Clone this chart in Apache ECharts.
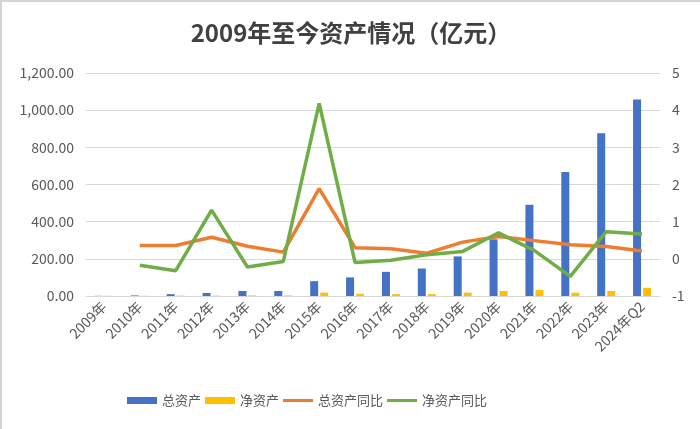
<!DOCTYPE html>
<html>
<head>
<meta charset="utf-8">
<script src="https://cdn.jsdelivr.net/npm/echarts@6/dist/echarts.min.js"></script>
<style>
  html, body { margin: 0; padding: 0; background: #fff; }
  #chart-container { width: 700px; height: 429px; box-sizing: border-box; border-left: 2px solid #d4d4d4; border-top: 2px solid #d4d4d4; }
</style>
</head>
<body>
<div id="chart-container"></div>
<script>
var categories = ['2009年', '2010年', '2011年', '2012年', '2013年', '2014年', '2015年', '2016年',
    '2017年', '2018年', '2019年', '2020年', '2021年', '2022年', '2023年', '2024年Q2'];
var totalAssets = [1, 3, 10, 16, 27, 27, 80, 100, 130, 148, 213, 305, 491, 667, 876, 1058];
var netAssets = [1, 1, 2, 2, 3, 3, 18, 12, 10, 10, 18, 27, 32, 18, 27, 44];
var totalYoY = ['-', 0.36, 0.36, 0.58, 0.34, 0.18, 1.89, 0.30, 0.27, 0.15, 0.45, 0.60, 0.49, 0.38, 0.33, 0.21];
var netYoY = ['-', -0.17, -0.32, 1.31, -0.22, -0.07, 4.18, -0.10, -0.04, 0.11, 0.20, 0.70, 0.22, -0.47, 0.73, 0.67];

var dom = document.getElementById('chart-container');
var myChart = echarts.init(dom, null, { renderer: 'canvas' });

var textColor = '#595959';
var font = '"Noto Sans CJK SC", "Noto Sans", sans-serif';
// thin line icon for line series in the legend (tiny corner points keep the 30x7 box)
var lineIcon = 'path://M0,0L0.1,0L0,0.1Z M0,2L30,2L30,5L0,5Z M30,7L29.9,7L30,6.9Z';

var option = {
    animation: false,
    title: {
        text: '2009年至今资产情况（亿元）',
        left: 'center',
        top: 14,
        textStyle: { fontSize: 24, fontWeight: 'bold', color: '#404040', fontFamily: font }
    },
    legend: {
        bottom: 17,
        left: 120,
        itemWidth: 30,
        itemHeight: 7,
        itemGap: 4,
        textStyle: { color: textColor, fontSize: 13, fontFamily: font },
        data: [
            { name: '总资产', icon: 'rect' },
            { name: '净资产', icon: 'rect' },
            { name: '总资产同比', icon: lineIcon },
            { name: '净资产同比', icon: lineIcon }
        ]
    },
    grid: { left: 84, right: 40, top: 71, bottom: 133 },
    xAxis: {
        type: 'category',
        data: categories,
        axisLine: { lineStyle: { color: '#d9d9d9' } },
        axisTick: { show: false },
        axisLabel: { rotate: 45, color: textColor, fontSize: 14, margin: 8, interval: 0, fontFamily: font }
    },
    yAxis: [
        {
            type: 'value',
            min: 0,
            max: 1200,
            interval: 200,
            axisLine: { show: false },
            axisTick: { show: false },
            splitLine: { lineStyle: { color: '#d9d9d9' } },
            axisLabel: {
                color: textColor,
                fontSize: 14,
                margin: 12,
                fontFamily: font,
                formatter: function (v) {
                    return v.toLocaleString('en-US', { minimumFractionDigits: 2, maximumFractionDigits: 2 });
                }
            }
        },
        {
            type: 'value',
            min: -1,
            max: 5,
            interval: 1,
            axisLine: { show: false },
            axisTick: { show: false },
            splitLine: { show: false },
            axisLabel: { color: textColor, fontSize: 14, margin: 12, fontFamily: font }
        }
    ],
    series: [
        {
            name: '总资产',
            type: 'bar',
            data: totalAssets,
            barWidth: 8,
            barGap: '25%',
            itemStyle: { color: '#4472C4' }
        },
        {
            name: '净资产',
            type: 'bar',
            data: netAssets,
            barWidth: 8,
            itemStyle: { color: '#FFC000' }
        },
        {
            name: '总资产同比',
            type: 'line',
            yAxisIndex: 1,
            data: totalYoY,
            symbol: 'none',
            lineStyle: { color: '#ED7D31', width: 3.5 },
            itemStyle: { color: '#ED7D31' }
        },
        {
            name: '净资产同比',
            type: 'line',
            yAxisIndex: 1,
            data: netYoY,
            symbol: 'none',
            lineStyle: { color: '#70AD47', width: 3.5 },
            itemStyle: { color: '#70AD47' }
        }
    ]
};

myChart.setOption(option);
window.addEventListener('resize', myChart.resize);
</script>
</body>
</html>
